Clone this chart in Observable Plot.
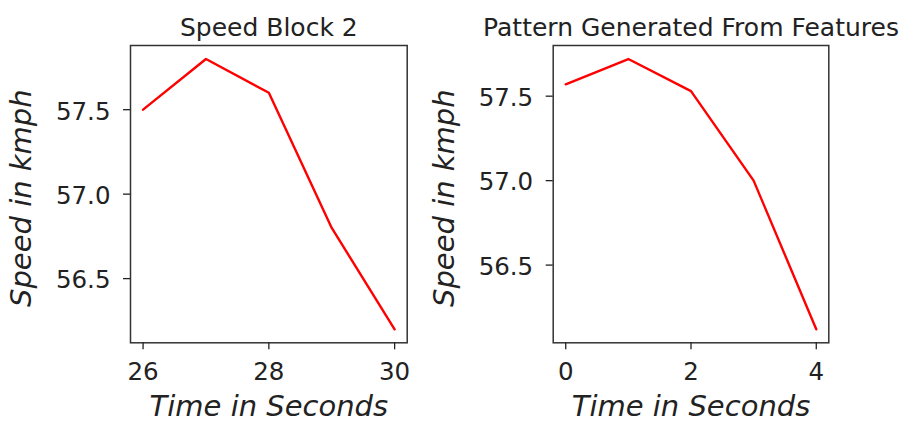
<!DOCTYPE html>
<html>
<head>
<meta charset="utf-8">
<script src="https://cdn.jsdelivr.net/npm/d3@7"></script>
<script src="https://cdn.jsdelivr.net/npm/@observablehq/plot@0.6"></script>
<style>
  body { margin: 0; background: #fff; }
  #wrap { position: relative; width: 910px; height: 423px; background: #fff; overflow: hidden; }
  #wrap svg { position: absolute; top: 0; }
</style>
</head>
<body>
<div id="wrap"></div>
<script>
// ---- data ----
const block2Title = "Speed Block 2";
const block2Time = [26, 27, 28, 29, 30];
const block2Speed = [57.5, 57.8, 57.6, 56.8, 56.2];
const block2Ticks = [26, 28, 30];

const patternTitle = "Pattern Generated From Features";
const patternTime = [0, 1, 2, 3, 4];
const patternSpeed = [57.57, 57.72, 57.53, 57.0, 56.12];
const patternTicks = [0, 2, 4];

const speedTicks = [56.5, 57.0, 57.5];
const xLabel = "Time in Seconds";
const yLabel = "Speed in kmph";

const FONT = "DejaVu Sans, sans-serif";
const INK = "#222";

function padded(vals) {
  const [a, b] = d3.extent(vals);
  const p = (b - a) * 0.05;
  return [a - p, b + p];
}

function panel(title, times, speeds, xticks, left, margins) {
  const rows = times.map((t, i) => ({t, v: speeds[i]}));
  const svg = Plot.plot({
    width: 455,
    height: 423,
    marginLeft: margins.left,
    marginRight: margins.right,
    marginTop: 45,
    marginBottom: 80.7,
    style: {fontFamily: FONT, fontSize: "24px", color: INK, background: "transparent", overflow: "visible"},
    x: {domain: padded(times)},
    y: {domain: padded(speeds)},
    marks: [
      Plot.line(rows, {x: "t", y: "v", stroke: "#ff0000", strokeWidth: 2.4}),
      Plot.frame({stroke: "#333", strokeWidth: 1.5}),
      Plot.axisX(xticks, {tickSize: 7, tickPadding: 12.9, label: null, stroke: INK, strokeWidth: 1.3, fill: INK, fontSize: 24.5, tickFormat: d3.format("d")}),
      Plot.axisY(speedTicks, {tickSize: 7, text: null, label: null, stroke: INK, strokeWidth: 1.3}),
      Plot.axisY(speedTicks, {tickSize: 0, tickPadding: 20, dy: 2, label: null, fill: INK, fontSize: 24.5, tickFormat: d3.format(".1f")}),
      Plot.text([title], {frameAnchor: "top", dy: -10, lineAnchor: "bottom", text: d => d, fontSize: 25, fill: INK}),
      Plot.text([xLabel], {frameAnchor: "bottom", dy: 73.5, lineAnchor: "bottom", text: d => d, fontSize: 29, fontStyle: "italic", fill: INK}),
      Plot.text([yLabel], {frameAnchor: "left", textAnchor: "middle", dx: -99.7, dy: 4, rotate: -90, lineAnchor: "bottom", text: d => d, fontSize: 29, fontStyle: "italic", fill: INK})
    ]
  });
  svg.style.left = left + "px";
  svg.style.position = "absolute";
  svg.style.top = "0px";
  svg.style.overflow = "visible";
  return svg;
}

const wrap = document.getElementById("wrap");
wrap.appendChild(panel(block2Title, block2Time, block2Speed, block2Ticks, 0, {left: 130, right: 48.3}));
wrap.appendChild(panel(patternTitle, patternTime, patternSpeed, patternTicks, 455, {left: 97.7, right: 81.7}));
</script>
</body>
</html>
